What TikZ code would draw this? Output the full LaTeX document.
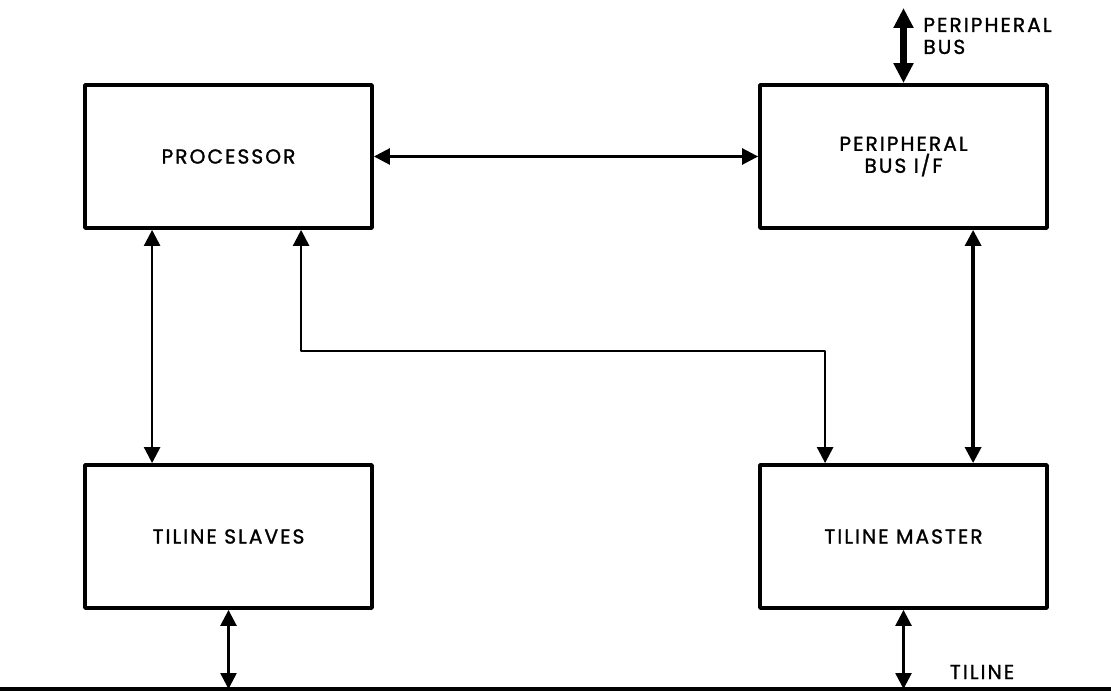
\documentclass[tikz,border=0pt]{standalone}
\usepackage{fontspec}
\newfontfamily\diagfont[LetterSpace=10,FakeBold=1.2]{Poppins}
\usetikzlibrary{arrows.meta,calc}
\tikzset{
	blk/.style={draw, line width=2.2pt, minimum width=5.74cm, minimum height=2.86cm, align=center, inner sep=0pt},
	wire/.style={line width=1.5pt}
}
\begin{document}
\begin{tikzpicture}[x=0.02cm, y=-0.02cm, font=\diagfont\fontsize{11.5}{12.5}\selectfont, line join=round, >={Triangle[length=0.32cm,width=0.32cm]}]
				\useasboundingbox (0,0) rectangle (1111,692);
				\node[blk] (proc) at (228.5,156.5) {PROCESSOR};
				\node[blk] (pif) at (903.5,156.5) {PERIPHERAL\\BUS I/F};
				\node[blk] (slv) at (228.5,536.5) {TILINE SLAVES};
				\node[blk] (mst) at (903.5,536.5) {TILINE MASTER};
				\coordinate (bl) at (0,689);
				\coordinate (br) at (1111,689);
				\coordinate (pb) at (903.5,8);
				\node[right, align=left, inner sep=0pt] (pblbl) at (923,36) {PERIPHERAL\\BUS};
				\node[inner sep=0pt] (tlbl) at (982,672) {TILINE};
				% bus and connectors
				\draw[line width=2pt] (bl) -- (br);
				\draw[wire,<->] (proc.east) -- (pif.west);
				\draw[wire,<->] ($(proc.south west)+(69,0)$) -- ($(slv.north west)+(69,0)$);
				\draw[wire,<->] ($(proc.south west)+(218,0)$) -- ++(0,121) -| ($(mst.north west)+(67,0)$);
				\draw[line width=1.9pt,<->] ($(pif.south west)+(215,0)$) -- ($(mst.north west)+(215,0)$);
				\draw[line width=4.5pt,<->,>={Triangle[length=0.4cm,width=0.38cm]}] (pif.north) -- (pb);
				\draw[wire,<->] (slv.south) -- (slv.south |- bl);
				\draw[wire,<->] (mst.south) -- (mst.south |- bl);
			\end{tikzpicture}
\end{document}
